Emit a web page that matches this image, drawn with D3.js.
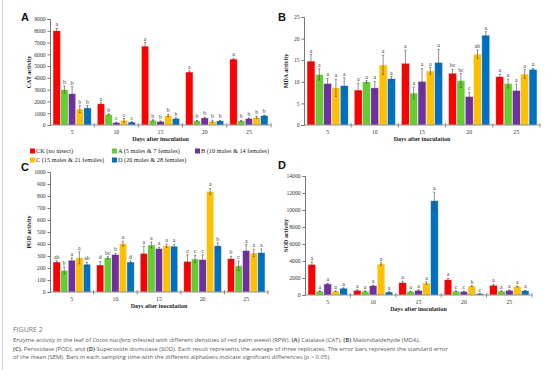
<!DOCTYPE html>
<html>
<head>
<meta charset="utf-8">
<script src="https://cdn.jsdelivr.net/npm/d3@7"></script>
<style>
  body { margin: 0; background: #fff; }
  svg { display: block; }
</style>
</head>
<body>
<script>
var days = ["5", "10", "15", "20", "25"];
var groups = ["CK (no insect)", "A (5 males & 7 females)", "B (10 males & 14 females)",
              "C (15 males & 21 females)", "D (20 males & 28 females)"];
var colors = ["#ff0000", "#66cc33", "#7030a0", "#ffc000", "#0070c0"];

// rows = days, columns = groups
var catMean = [[8000, 3000, 2650, 1350, 1450], [1800, 900, 200, 400, 250], [6700, 400, 300, 800, 550], [4500, 350, 600, 300, 350], [5600, 350, 550, 650, 800]];
var catErr  = [[200, 300, 600, 300, 200], [100, 50, 30, 150, 40], [300, 50, 40, 100, 80], [100, 40, 50, 100, 40], [60, 40, 50, 100, 50]];
var catLetters = [["a","b","b","b","b"], ["a","b","c","c","c"], ["a","b","b","b","b"], ["a","b","b","b","b"], ["a","b","b","b","b"]];

var mdaMean = [[14.8, 11.7, 9.6, 8.6, 9.1], [8.1, 10.0, 8.6, 13.9, 10.7], [14.3, 7.4, 10.1, 12.5, 14.5], [12.0, 10.3, 6.6, 16.4, 20.8], [11.2, 9.6, 8.0, 11.8, 12.9]];
var mdaErr  = [[1.5, 1.3, 1.2, 2.0, 1.8], [1.6, 0.3, 1.5, 2.2, 0.5], [3.0, 1.4, 3.0, 0.8, 3.0], [0.9, 1.6, 1.0, 1.0, 0.8], [0.5, 1.0, 1.5, 1.0, 0.2]];
var mdaLetters = [["a","a","a","a","a"], ["a","a","a","a","a"], ["a","a","a","a","a"], ["bc","bc","c","ab","a"], ["a","a","a","a","a"]];

var podMean = [[250, 180, 265, 285, 232], [225, 285, 312, 402, 250], [322, 392, 362, 385, 382], [255, 275, 270, 838, 385], [278, 218, 345, 325, 328]];
var podErr  = [[10, 30, 20, 50, 15], [30, 10, 10, 20, 10], [60, 25, 10, 15, 15], [55, 30, 40, 25, 25], [20, 40, 50, 30, 30]];
var podLetters = [["ab","b","a","a","ab"], ["d","bc","b","a","d"], ["a","a","a","a","a"], ["c","c","c","a","b"], ["b","c","a","a","a"]];

var sodMean = [[3600, 450, 1300, 450, 800], [550, 450, 1100, 3650, 350], [1450, 400, 550, 1400, 11100], [1800, 450, 400, 1050, 150], [1150, 450, 550, 1000, 500]];
var sodErr  = [[300, 40, 80, 40, 50], [60, 40, 60, 150, 30], [150, 40, 50, 150, 1000], [150, 40, 40, 50, 20], [100, 40, 40, 50, 30]];
var sodLetters = [["a","a","a","a","a"], ["a","a","a","a","a"], ["a","a","a","a","a"], ["a","c","c","b","c"], ["a","a","a","a","a"]];

var width = 554, height = 370;
var serif = "Liberation Serif, Times New Roman, serif";

var svg = d3.select("body").append("svg")
    .attr("width", width)
    .attr("height", height);

// left frame line
svg.append("line").attr("x1", 2.5).attr("x2", 2.5).attr("y1", 0).attr("y2", height)
    .attr("stroke", "#d0d0d0").attr("stroke-width", 1);

function panel(o) {
    var x0 = d3.scaleBand().domain(days).range([o.left, o.right]);
    var x1 = d3.scaleBand().domain(d3.range(groups.length))
        .range([3, x0.bandwidth() - 3]).paddingInner(0.04);
    var y = d3.scaleLinear().domain([0, o.max]).range([o.bottom, o.top]);

    var g = svg.append("g").attr("font-family", serif);

    // y axis
    var ya = g.append("g").attr("transform", "translate(" + o.left + ",0)")
        .call(d3.axisLeft(y)
            .tickValues(d3.range(0, o.max + o.step / 2, o.step))
            .tickFormat(d3.format("d"))
            .tickSize(2.5).tickPadding(2));
    ya.attr("font-family", serif);
    ya.select(".domain").attr("stroke", "#777");
    ya.selectAll(".tick line").attr("stroke", "#777");
    ya.selectAll(".tick text").attr("font-size", 5.6).attr("fill", "#333");

    // bars
    days.forEach(function(d, i) {
        var cg = g.append("g").attr("transform", "translate(" + x0(d) + ",0)");
        groups.forEach(function(s, j) {
            var v = o.mean[i][j], e = o.err[i][j];
            var bx = x1(j), bw = x1.bandwidth();
            cg.append("rect")
                .attr("x", bx).attr("width", bw)
                .attr("y", y(v)).attr("height", o.bottom - y(v))
                .attr("fill", colors[j])
                .attr("stroke", "#f4f4f4").attr("stroke-width", 0.5);
            var cx = bx + bw / 2;
            var eg = cg.append("g").attr("stroke", "#444").attr("stroke-width", 0.6);
            eg.append("line").attr("x1", cx).attr("x2", cx).attr("y1", y(v - e)).attr("y2", y(v + e));
            eg.append("line").attr("x1", cx - 1).attr("x2", cx + 1).attr("y1", y(v + e)).attr("y2", y(v + e));
            eg.append("line").attr("x1", cx - 1).attr("x2", cx + 1).attr("y1", y(v - e)).attr("y2", y(v - e));
            cg.append("text")
                .attr("x", cx).attr("y", y(v + e) - 2)
                .attr("text-anchor", "middle")
                .attr("font-size", 5.8).attr("fill", "#333")
                .text(o.letters[i][j]);
        });
    });

    // x axis
    var xa = g.append("g").attr("transform", "translate(0," + o.bottom + ")");
    xa.append("line").attr("x1", o.left).attr("x2", o.right).attr("stroke", "#777").attr("stroke-width", 0.8);
    days.forEach(function(d, i) {
        xa.append("line").attr("x1", x0(d) + x0.bandwidth()).attr("x2", x0(d) + x0.bandwidth())
            .attr("y1", -2).attr("y2", 2.5).attr("stroke", "#777").attr("stroke-width", 0.8);
        xa.append("text")
            .attr("x", x0(d) + x0.bandwidth() / 2).attr("y", 9)
            .attr("text-anchor", "middle").attr("font-size", 5.8).attr("fill", "#333")
            .text(d);
    });
    xa.append("text")
        .attr("x", (o.left + o.right) / 2).attr("y", 16)
        .attr("text-anchor", "middle").attr("font-size", 6).attr("font-weight", "bold").attr("fill", "#222")
        .text("Days after inoculation");

    // y title
    g.append("text")
        .attr("transform", "translate(" + o.ylabX + "," + (o.top + o.bottom) / 2 + ") rotate(-90)")
        .attr("text-anchor", "middle").attr("font-size", 6).attr("font-weight", "bold").attr("fill", "#222")
        .text(o.ylab);

    // panel letter
    g.append("text").attr("x", o.tagX).attr("y", o.tagY)
        .attr("font-family", "Liberation Sans, Arial, sans-serif")
        .attr("font-size", 11).attr("font-weight", "bold").attr("fill", "#111")
        .text(o.tag);
}

panel({ tag: "A", tagX: 21, tagY: 21, left: 50, right: 271, top: 19, bottom: 125,
        max: 9000, step: 1000, mean: catMean, err: catErr, letters: catLetters,
        ylab: "CAT activity", ylabX: 31 });
panel({ tag: "B", tagX: 278, tagY: 21, left: 304, right: 540, top: 17, bottom: 125,
        max: 25, step: 5, mean: mdaMean, err: mdaErr, letters: mdaLetters,
        ylab: "MDA activity", ylabX: 288 });
panel({ tag: "C", tagX: 21, tagY: 171, left: 50, right: 268, top: 172, bottom: 292,
        max: 1000, step: 100, mean: podMean, err: podErr, letters: podLetters,
        ylab: "POD activity", ylabX: 31 });
panel({ tag: "D", tagX: 278, tagY: 169, left: 305, right: 532, top: 176, bottom: 295,
        max: 14000, step: 2000, mean: sodMean, err: sodErr, letters: sodLetters,
        ylab: "SOD activity", ylabX: 288 });

// legend
var legPos = [[30, 151], [112, 151], [195, 151], [30, 160], [112, 160]];
var leg = svg.append("g").attr("font-family", serif);
groups.forEach(function(s, j) {
    var p = legPos[j];
    leg.append("rect").attr("x", p[0]).attr("y", p[1] - 2.5).attr("width", 5).attr("height", 5)
        .attr("fill", colors[j]);
    leg.append("text").attr("x", p[0] + 6).attr("y", p[1] + 2)
        .attr("font-size", 6.3).attr("fill", "#222").text(s);
});

// caption
var cap = svg.append("g").attr("font-family", "Open Sans, sans-serif").attr("fill", "#5a5a5a");
cap.append("text").attr("x", 13).attr("y", 332).attr("font-size", 7).attr("fill", "#777").text("FIGURE 2");

var l1 = cap.append("text").attr("x", 13).attr("y", 342).attr("font-size", 5.9);
l1.append("tspan").text("Enzyme activity in the leaf of ");
l1.append("tspan").attr("font-style", "italic").text("Cocos nucifera");
l1.append("tspan").text(" infested with different densities of red palm weevil (RPW). ");
l1.append("tspan").attr("font-weight", "bold").text("(A)");
l1.append("tspan").text(" Catalase (CAT), ");
l1.append("tspan").attr("font-weight", "bold").text("(B)");
l1.append("tspan").text(" Malondialdehyde (MDA),");

var l2 = cap.append("text").attr("x", 13).attr("y", 350.5).attr("font-size", 5.9);
l2.append("tspan").attr("font-weight", "bold").text("(C)");
l2.append("tspan").text(", Peroxidase (POD), and ");
l2.append("tspan").attr("font-weight", "bold").text("(D)");
l2.append("tspan").text(" Superoxide dismutase (SOD). Each result represents the average of three replicates. The error bars represent the standard error");

var l3 = cap.append("text").attr("x", 13).attr("y", 359).attr("font-size", 5.9);
l3.append("tspan").text("of the mean (SEM). Bars in each sampling time with the different alphabets indicate significant differences (");
l3.append("tspan").attr("font-style", "italic").text("p");
l3.append("tspan").text(" > 0.05).");
</script>
</body>
</html>
